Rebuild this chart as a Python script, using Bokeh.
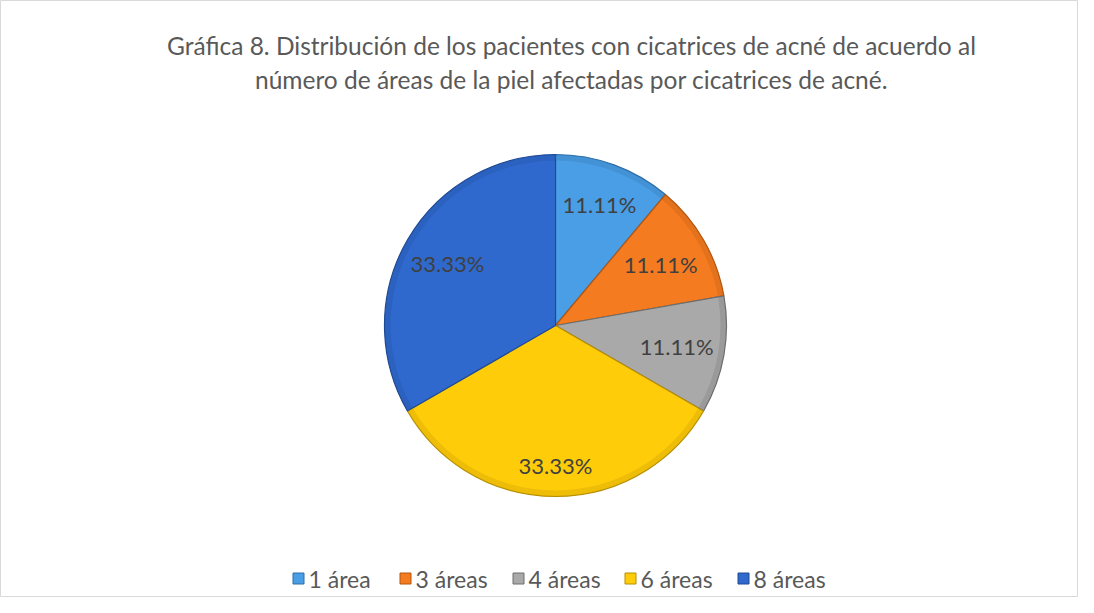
import math
from bokeh.plotting import figure
from bokeh.models import ColumnDataSource, Range1d
from bokeh.core.properties import value
from bokeh.embed import file_html
from bokeh.resources import INLINE

# ---- data ----
categories = ["1 área", "3 áreas", "4 áreas", "6 áreas", "8 áreas"]
counts = [1, 1, 1, 3, 3]
colors = ["#4A9EE6", "#F47B20", "#A9A9A9", "#FFCC0A", "#2F69CE"]
edge_colors = ["#2E6FA8", "#B3560F", "#6E6E6E", "#B88F00", "#1F4A94"]
title_lines = [
    "Gráfica 8. Distribución de los pacientes con cicatrices de acné de acuerdo al",
    "número de áreas de la piel afectadas por cicatrices de acné.",
]
# label distance from centre as a fraction of the radius (layout)
label_frac = [0.75, 0.71, 0.72, 0.82, 0.73]

W, H = 1078, 597
FONT = "Lato"
TXT = "#595959"

p = figure(width=W, height=H, output_backend="svg", toolbar_location=None,
           x_range=Range1d(0, W), y_range=Range1d(0, H),
           x_axis_type=None, y_axis_type=None, min_border=0)
p.grid.visible = False
p.outline_line_color = "#D9D9D9"
p.outline_line_width = 1
p.background_fill_color = "white"

cx, cy, R = 555, 272, 171

total = sum(counts)
start, end, mids = [], [], []
a = math.pi / 2
for c in counts:
    sweep = 2 * math.pi * c / total
    end.append(a)
    start.append(a - sweep)
    mids.append(a - sweep / 2)
    a -= sweep

labels = [f"{100 * c / total:.2f}%" for c in counts]
src = ColumnDataSource(dict(
    cat=categories, start=start, end=end, color=colors, edge=edge_colors,
    lx=[cx + f * R * math.cos(m) for f, m in zip(label_frac, mids)],
    ly=[cy + f * R * math.sin(m) for f, m in zip(label_frac, mids)],
    label=labels,
))

p.wedge(x=cx, y=cy, radius=R, start_angle="start", end_angle="end",
        fill_color="color", line_color="edge", line_width=1.2, source=src)
# subtle bevel rim
p.annular_wedge(x=cx, y=cy, inner_radius=R - 6, outer_radius=R, start_angle="start",
                end_angle="end", fill_color="edge", fill_alpha=0.25, line_color=None,
                source=src)

p.text(x="lx", y="ly", text="label", source=src, text_align="center",
       text_baseline="middle", text_font=value(FONT), text_font_size="22px",
       text_color="#404040")

# title
p.text(x=[571, 571], y=[552, 518], text=title_lines, text_align="center",
       text_baseline="middle", text_font=value(FONT), text_font_size="24.5px",
       text_color=TXT)

# legend
leg_x = [292, 399, 512, 624, 737]
leg_y = 19
p.scatter(x=[x + 6 for x in leg_x], y=[leg_y] * 5, marker="square", size=11,
          fill_color=colors, line_color=edge_colors, line_width=1)
p.text(x=[x + 16 for x in leg_x], y=[leg_y] * 5, text=categories, text_align="left",
       text_baseline="middle", text_font=value(FONT), text_font_size="23px",
       text_color=TXT)

open("out.html", "w").write(file_html(p, INLINE))
